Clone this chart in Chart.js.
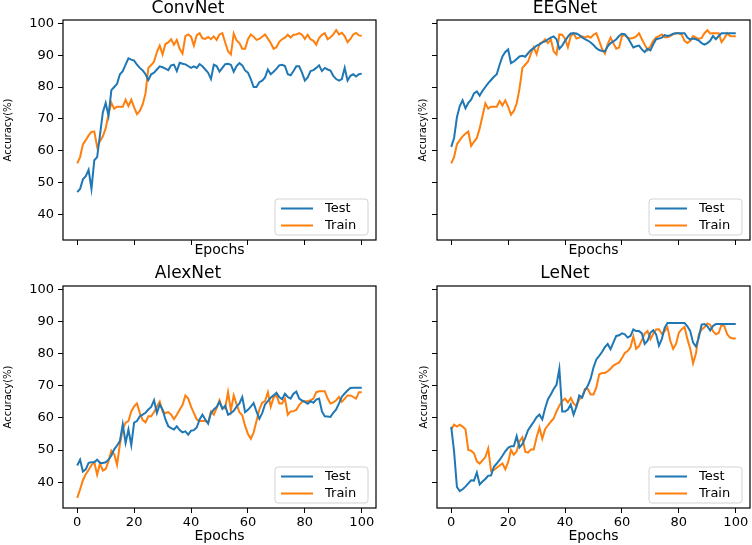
<!DOCTYPE html>
<html>
<head>
<meta charset="utf-8">
<script src="https://cdn.jsdelivr.net/npm/chart.js@4.4.1/dist/chart.umd.min.js"></script>
<style>
  html, body { margin: 0; padding: 0; background: #fff; }
  #wrap { position: relative; width: 752px; height: 545px; }
  #wrap canvas { position: absolute; }
</style>
</head>
<body>
<div id="wrap">
  <canvas id="convnet" width="380" height="265" style="left:0;top:0"></canvas>
  <canvas id="eegnet" width="372" height="265" style="left:380px;top:0"></canvas>
  <canvas id="alexnet" width="380" height="280" style="left:0;top:265px"></canvas>
  <canvas id="lenet" width="372" height="280" style="left:380px;top:265px"></canvas>
</div>
<script>
// epochs 0..100
var epochs = Array.from({length: 101}, function (_, i) { return i; });
var xTicks = [0, 20, 40, 60, 80, 100];
var yTicks = [40, 50, 60, 70, 80, 90, 100];

var convTest = [
  47, 48, 51, 52, 54, 48, 57, 58, 65, 72,
  75, 71, 79, 80, 81, 84, 85, 87, 89, 88.6,
  88.3, 87, 86, 85.2, 84, 82.2, 84, 84.5, 85.5, 86.5,
  86.2, 85.8, 85.3, 86.8, 87, 85, 87.6, 87.3, 87.1, 86.6,
  86, 86.5, 86, 87.2, 86.5, 85.5, 84.5, 82.5, 87, 86.6,
  84.8, 86, 87.2, 87.3, 87, 84.8, 86.6, 87.5, 86.8, 85.2,
  84.5, 82.5, 80, 80, 81.5, 82, 83, 85.5, 84, 84.8,
  85.7, 86.8, 87, 86.6, 84, 83.7, 85, 86.5, 86.5, 84.5,
  82, 83, 85, 85.3, 86, 86.8, 85, 86, 85.5, 85.2,
  83.5, 82.5, 82, 82.5, 86, 82, 83.5, 84, 83.3, 84, 84.2
];
var convTrain = [
  56, 58, 62, 63.3, 64.8, 65.9, 66, 61.2, 63, 64.5,
  67, 71.5, 75, 73.2, 73.8, 73.8, 73.8, 76, 74, 76,
  73.6, 71.5, 72.5, 74.5, 78, 86, 86.9, 88, 91, 93,
  90.2, 93.5, 94, 95, 93.3, 94.8, 92, 90.5, 96, 96.5,
  95.8, 93, 96.3, 96.9, 95.3, 95.1, 95.7, 95, 95.9, 94.8,
  96.5, 96.9, 94, 91.2, 90.2, 96.8, 94.6, 93.8, 92, 92,
  95, 96.5, 95.8, 94.8, 95.1, 95.8, 96.5, 95.2, 93.8, 92,
  92.5, 94.2, 95, 95.5, 96.4, 95.5, 96.4, 96.5, 96.9, 96.4,
  95.1, 96.4, 95, 94.5, 93.3, 95.4, 96.4, 96.9, 95, 95.6,
  96.5, 97.9, 96.5, 97, 96, 94.1, 95.1, 96.5, 97, 96.2, 96.1
];
var eegTest = [
  61.2, 64, 70.5, 74, 75.8, 73.3, 75, 76, 78, 78.6,
  77.3, 78.8, 80, 81.2, 82.2, 83.2, 84, 87, 89.6, 91,
  91.8, 87.5, 88, 88.8, 89.6, 89.8, 89.5, 90.6, 91.6, 92.2,
  93, 93.3, 94, 94.3, 95, 95.5, 95.9, 95, 92, 93,
  94.5, 95.8, 96.8, 96.9, 96.8, 96.3, 95.6, 95, 94.6, 94,
  93.2, 92.2, 91.6, 91.3, 91.2, 92.8, 93.8, 94.3, 95, 96,
  96.7, 96.6, 95.5, 94, 92.4, 92.8, 93, 91.8, 91, 92,
  91.5, 93.4, 95, 95.2, 95.5, 96.3, 96, 96.3, 96.7, 96.9,
  96.9, 96.9, 96.9, 95.5, 94.9, 95.2, 95, 94.6, 93.8, 93.3,
  93.8, 94.5, 96, 95, 96, 96.9, 96.9, 96.9, 96.9, 96.9, 96.9
];
var eegTrain = [
  56, 58, 62, 63.3, 64.5, 65.3, 66, 61.5, 62.8, 64,
  67, 71, 74.9, 73.2, 73.8, 73.8, 73.8, 75.6, 74.2, 75.8,
  73.8, 71.3, 72.5, 74.8, 79.5, 86, 87, 88, 90.5, 92.5,
  90.3, 93.6, 94, 95, 93.8, 95, 91.2, 90.2, 96.5, 96.4,
  95.2, 92.5, 96, 96.9, 95.2, 95.5, 95.9, 95.5, 96, 95.5,
  96.4, 96.9, 94.5, 92, 90.5, 93.5, 95.5, 93.7, 92, 92.4,
  96, 96.3, 95.4, 95.2, 95.4, 95.9, 96.9, 95, 93.3, 91.6,
  92.8, 94.5, 95.5, 96, 96.5, 95.6, 95.6, 96, 96.6, 96.9,
  96.9, 96.4, 94.5, 93.8, 94.5, 96, 95.5, 95.1, 95.4, 96.9,
  97.8, 96.8, 96.9, 96.9, 96.9, 94.1, 95.3, 96.9, 96, 95.9, 95.9
];
var alexTest = [
  45.2, 47, 43.3, 44, 46, 46.2, 46.2, 47, 46, 46,
  46.2, 47, 48.3, 50.2, 51.4, 52.8, 58, 52.2, 56.4, 51.5,
  58.5, 59, 60.5, 61, 61.6, 62.6, 63.4, 65.5, 61.5, 64.2,
  62.6, 59.5, 57.4, 56.8, 56.4, 57.4, 56.2, 55.5, 55.8, 54.8,
  56, 56.2, 57, 59.5, 61, 59.5, 58.2, 61.5, 62.6, 63.4,
  65, 62.8, 63.8, 61, 61.5, 62.2, 63.5, 64.5, 66.5, 61.8,
  62.5, 63.5, 64.6, 62, 59.7, 61.5, 64.2, 65.2, 66.3, 67,
  67.8, 66.5, 65.8, 67.5, 66.5, 66, 67.5, 68.2, 66, 65.4,
  65, 64.4, 65.2, 64.7, 65.7, 66, 62, 60.5, 60.4, 60.3,
  61.6, 62.6, 64.5, 66.6, 67.6, 68.5, 69.3, 69.4, 69.4, 69.4, 69.4
];
var alexTrain = [
  35.1, 37.7, 40.6, 42.5, 43.8, 45.3, 46.2, 42.3, 45.8, 43.6,
  44.1, 46.5, 49.8, 48.7, 45.4, 51.8, 56.5, 58.5, 59, 62,
  63.6, 64.5, 61.5, 59.3, 58.6, 60.5, 60.5, 61.8, 63.5, 65.1,
  62, 61.5, 61.8, 61, 59.6, 61, 62.5, 64, 67, 66,
  63.5, 61.5, 59.5, 59, 59, 59, 58.6, 62, 61, 63,
  65.5, 63, 63, 68, 62.3, 67, 64.2, 61.8, 60.8, 57.5,
  55, 53.5, 55.5, 59, 62.6, 64.7, 65.2, 68, 63.5, 66.3,
  67.2, 64.5, 64.5, 66, 61, 62, 62.1, 62.5, 64, 65,
  65.2, 65.2, 65.5, 66, 68, 68.3, 68.3, 68.3, 66, 64.5,
  64.8, 65.5, 66.5, 65, 66, 67, 67, 66.5, 66, 68, 68
];
var leTest = [
  57.2, 49.6, 38.5, 37.2, 37.8, 38.6, 39.6, 40.6, 40.5, 43,
  39.3, 40.2, 41, 42, 42.1, 44.8, 45.8, 46.9, 48.2, 49.6,
  50.7, 51.2, 51.2, 54.3, 50.8, 51.8, 53.8, 56.2, 57.5, 58.8,
  60.2, 61, 59.5, 63, 65.8, 67.3, 69, 70.3, 75.3, 62,
  62, 62.6, 64.2, 61, 63.5, 67, 66.3, 68.6, 70, 72.2,
  75.7, 78.2, 79.3, 80.5, 82, 83, 81.4, 83.5, 85.5, 85.7,
  86.3, 86, 85, 85.5, 87.5, 87, 87, 86.3, 83, 84,
  86.5, 87.3, 86, 82.5, 84.5, 88, 89.5, 89.5, 89.5, 89.5,
  89.5, 89.5, 89.5, 88.5, 87, 83.4, 82.2, 85, 89, 89.2,
  88.5, 87.2, 88.6, 89.2, 89.2, 89.2, 89.2, 89.2, 89.2, 89.2, 89.2
];
var leTrain = [
  56.4, 57.9, 57.3, 57.9, 57.3, 56.5, 50, 49.8, 49, 46.5,
  45.8, 46.8, 47.8, 50.5, 43.5, 43.8, 44.5, 45.2, 45.8, 44,
  46.2, 50, 48.5, 49.6, 52.7, 54, 49.5, 49.2, 50.2, 50.2,
  54, 57, 53.5, 56.5, 57.7, 58.8, 59.8, 62, 63.8, 65.3,
  66, 64.8, 66.2, 64.5, 63.6, 65.8, 66.5, 69, 69, 67.3,
  67.3, 69.5, 73.5, 74, 74, 74.5, 75.3, 76.3, 76.8, 77.2,
  78.6, 80.2, 80.8, 82, 85.3, 81.5, 82.3, 84.2, 86.2, 87,
  84.5, 86.2, 87.5, 87.6, 86.2, 87, 88.2, 84, 81.5, 83,
  86.5, 87.6, 88.3, 84.5, 81.5, 77, 80, 86, 87.5, 88.2,
  89.4, 89, 87, 86, 86.5, 89, 88.5, 86, 85, 84.7, 84.7
];

var BLUE = '#1f77b4';
var ORANGE = '#ff7f0e';
var FONT = "'DejaVu Sans', sans-serif";

// axes frame + matplotlib style legend in the lower right corner
var frameLegend = {
  id: 'frameLegend',
  afterDatasetsDraw: function (chart) {
    var a = chart.chartArea;
    var ctx = chart.ctx;
    ctx.save();
    ctx.strokeStyle = '#000';
    ctx.lineWidth = 1.2;
    ctx.strokeRect(a.left, a.top, a.right - a.left, a.bottom - a.top);

    var w = 93, h = 36;
    var bx = a.right - 8 - w, by = a.bottom - 5 - h;
    ctx.beginPath();
    ctx.roundRect(bx, by, w, h, 3);
    ctx.fillStyle = 'rgba(255,255,255,0.8)';
    ctx.fill();
    ctx.strokeStyle = '#d3d3d3';
    ctx.lineWidth = 1;
    ctx.stroke();
    chart.data.datasets.forEach(function (ds, i) {
      var y = by + 9.5 + i * 17;
      ctx.strokeStyle = ds.borderColor;
      ctx.lineWidth = 2;
      ctx.beginPath();
      ctx.moveTo(bx + 6, y);
      ctx.lineTo(bx + 38, y);
      ctx.stroke();
      ctx.fillStyle = '#000';
      ctx.font = '13px ' + FONT;
      ctx.textBaseline = 'middle';
      ctx.fillText(ds.label, bx + 50, y + 0.5);
    });
    ctx.restore();
  }
};

function series(vals) {
  return epochs.map(function (e, i) { return {x: e, y: vals[i]}; });
}

function makeChart(id, title, test, train, o) {
  var ctx = document.getElementById(id).getContext('2d');
  return new Chart(ctx, {
    type: 'line',
    data: {
      datasets: [
        { label: 'Test', data: series(test), borderColor: BLUE, borderWidth: 2,
          pointRadius: 0, tension: 0, fill: false },
        { label: 'Train', data: series(train), borderColor: ORANGE, borderWidth: 2,
          pointRadius: 0, tension: 0, fill: false }
      ]
    },
    options: {
      responsive: false,
      animation: false,
      events: [],
      layout: { padding: { left: 0, top: 0, bottom: 0, right: o.padRight } },
      plugins: {
        legend: { display: false },
        tooltip: { enabled: false },
        title: {
          display: true, text: title, color: '#000',
          font: { family: FONT, size: 17, weight: 'normal', lineHeight: 1 },
          padding: { top: 0, bottom: o.titleGap }
        }
      },
      scales: {
        x: {
          type: 'linear', min: -5, max: 105,
          afterBuildTicks: function (s) { s.ticks = xTicks.map(function (v) { return {value: v}; }); },
          afterFit: function (s) { s.height = o.xHeight; },
          border: { display: false },
          grid: { drawOnChartArea: false, drawTicks: true, tickLength: 5, tickColor: '#000', tickWidth: 1 },
          ticks: { display: o.xLabels, color: '#000', padding: 2, maxRotation: 0,
                   font: { family: FONT, size: 13 } },
          title: { display: true, text: 'Epochs', color: '#000',
                   font: { family: FONT, size: 14 }, padding: { top: 0, bottom: o.xTitlePad } }
        },
        y: {
          type: 'linear', min: 31.96, max: 101.04,
          afterBuildTicks: function (s) { s.ticks = yTicks.map(function (v) { return {value: v}; }); },
          afterFit: function (s) { s.width = o.yWidth; },
          border: { display: false },
          grid: { drawOnChartArea: false, drawTicks: true, tickLength: 5, tickColor: '#000', tickWidth: 1 },
          ticks: { display: o.yLabels, color: '#000', padding: 4,
                   font: { family: FONT, size: 13 } },
          title: { display: true, text: 'Accuracy(%)', color: '#000',
                   font: { family: FONT, size: 10 }, padding: { top: o.yTitlePad, bottom: 0 } }
        }
      }
    },
    plugins: [frameLegend]
  });
}

makeChart('convnet', 'ConvNet', convTest, convTrain,
  { yLabels: true, xLabels: false, yWidth: 63, yTitlePad: 2.5, xHeight: 25, xTitlePad: 6.6, padRight: 4, titleGap: 3 });
makeChart('eegnet', 'EEGNet', eegTest, eegTrain,
  { yLabels: false, xLabels: false, yWidth: 57, yTitlePad: 37.5, xHeight: 25, xTitlePad: 6.6, padRight: 2, titleGap: 3 });
makeChart('alexnet', 'AlexNet', alexTest, alexTrain,
  { yLabels: true, xLabels: true, yWidth: 63, yTitlePad: 2.5, xHeight: 37, xTitlePad: 0, padRight: 4, titleGap: 4 });
makeChart('lenet', 'LeNet', leTest, leTrain,
  { yLabels: false, xLabels: true, yWidth: 57, yTitlePad: 38, xHeight: 37, xTitlePad: 0, padRight: 2, titleGap: 4 });
</script>
</body>
</html>
